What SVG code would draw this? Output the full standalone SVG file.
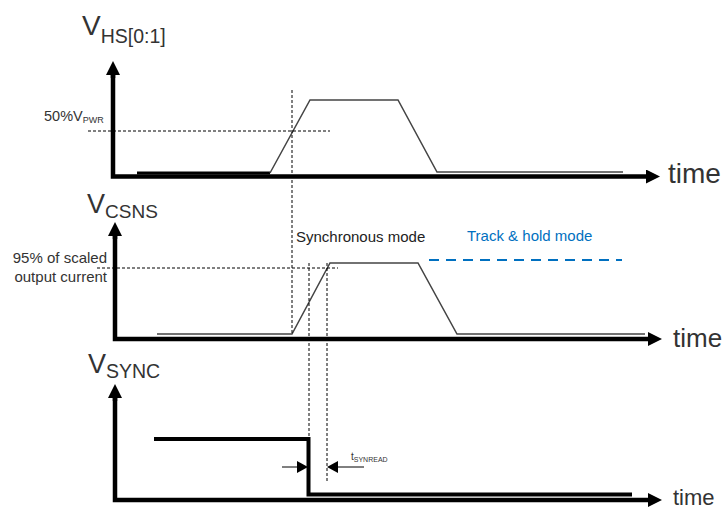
<svg xmlns="http://www.w3.org/2000/svg" width="728" height="510" viewBox="0 0 728 510">
<defs>
<marker id="ah" markerUnits="userSpaceOnUse" markerWidth="16" markerHeight="16" refX="0" refY="7" orient="auto" viewBox="0 0 16 16">
<path d="M0,0 L14,7 L0,14 z" fill="#000"/>
</marker>
</defs>
<style>
.axis{stroke:#000;stroke-width:4.5;fill:none}
.sig{stroke:#444;stroke-width:1.5;fill:none;stroke-linejoin:miter}
.thick{stroke:#000;stroke-width:4;fill:none}
.dash{stroke:#000;stroke-width:1;stroke-dasharray:3,2;fill:none}
.lbl{font-family:"Liberation Sans",Arial,sans-serif;fill:#333}
.blue{font-family:"Liberation Sans",Arial,sans-serif;fill:#0070C0}
</style>
<rect width="728" height="510" fill="#fff"/>

<g id="panel-hs">
<polyline class="axis" points="113,75 113,176.5 646,176.5" marker-end="url(#ah)"/>
<line x1="113" y1="78" x2="113" y2="75" class="axis" marker-end="url(#ah)"/>
<line x1="137" y1="173" x2="270" y2="173" stroke="#000" stroke-width="3"/>
<polyline class="sig" points="270,173 310,100 398,100 437,172 623,172"/>
<text class="lbl" x="82" y="35" font-size="28">V<tspan font-size="19.5" dy="8">HS[0:1]</tspan></text>
<text class="lbl" x="44" y="121" font-size="14.5">50%V<tspan font-size="9" dy="2">PWR</tspan></text>
<text class="lbl" x="668" y="183" font-size="28">time</text>
</g>

<g id="panel-csns">
<polyline class="axis" points="115,236 115,339 648,339" marker-end="url(#ah)"/>
<line x1="115" y1="239" x2="115" y2="236" class="axis" marker-end="url(#ah)"/>
<polyline class="sig" points="157,334 292,334 330,263 418,263 457,334 645,334"/>
<text class="lbl" x="87" y="213" font-size="27">V<tspan font-size="19" dy="5">CSNS</tspan></text>
<text class="lbl" x="107" y="263" font-size="15" text-anchor="end">95% of scaled</text>
<text class="lbl" x="107" y="282" font-size="15" text-anchor="end">output current</text>
<text x="296" y="242" font-size="15" font-family="Liberation Sans, Arial, sans-serif" fill="#222">Synchronous mode</text>
<text class="blue" x="467" y="241" font-size="15">Track &amp; hold mode</text>
<line x1="429" y1="260" x2="622" y2="260" stroke="#0070C0" stroke-width="2" stroke-dasharray="10,7"/>
<text class="lbl" x="673" y="347" font-size="26">time</text>
</g>

<g id="panel-sync">
<polyline class="axis" points="115,398 115,500 648,500" marker-end="url(#ah)"/>
<line x1="115" y1="401" x2="115" y2="398" class="axis" marker-end="url(#ah)"/>
<polyline class="thick" points="154,439 308.5,439 308.5,494.5 632,494.5"/>
<text class="lbl" x="88" y="373" font-size="27">V<tspan font-size="19.5" dy="5">SYNC</tspan></text>
<text class="lbl" x="673" y="505" font-size="22">time</text>
</g>

<g id="guides">
<line class="dash" x1="88" y1="131" x2="330" y2="131"/>
<line class="dash" x1="97" y1="268" x2="338" y2="268"/>
<line class="dash" x1="292" y1="90" x2="292" y2="334"/>
<line class="dash" x1="309" y1="263" x2="309" y2="438"/>
<line class="dash" x1="327" y1="263" x2="327" y2="482"/>
</g>

<g id="tsynread">
<line x1="282" y1="467" x2="298" y2="467" stroke="#000" stroke-width="1"/>
<polygon points="297,461 308,467 297,473" fill="#000"/>
<line x1="338" y1="467" x2="364" y2="467" stroke="#000" stroke-width="1"/>
<polygon points="338,461 327,467 338,473" fill="#000"/>
<text class="lbl" x="351" y="460" font-size="10">t<tspan font-size="7" dy="1.5">SYNREAD</tspan></text>
</g>
</svg>
